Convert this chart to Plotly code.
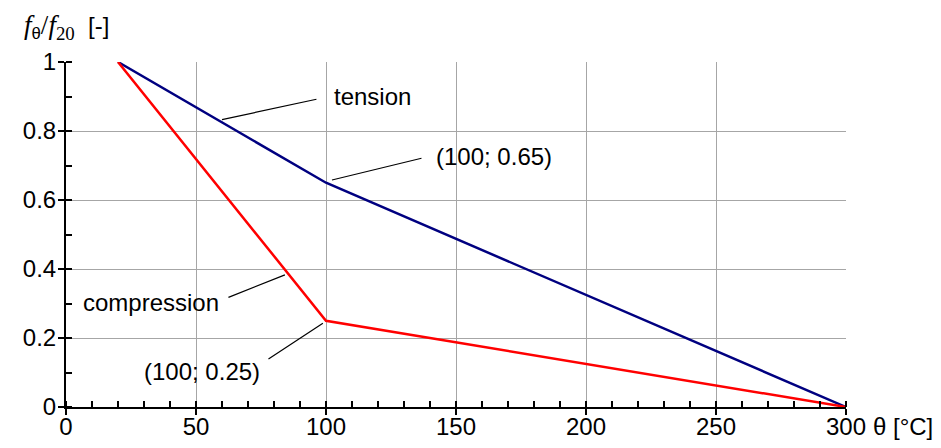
import plotly.graph_objects as go

# Data
temp = [20, 100, 300]
tension = [1.0, 0.65, 0.0]
compression = [1.0, 0.25, 0.0]
x_ticks = [0, 50, 100, 150, 200, 250, 300]
y_ticks = [0, 0.2, 0.4, 0.6, 0.8, 1.0]

FONT = "Liberation Sans, Arial, sans-serif"
FS = 24
GRID = "#a6a6a6"

fig = go.Figure()
fig.add_trace(go.Scatter(x=temp, y=tension, mode="lines",
                         line=dict(color="#000080", width=2.5), showlegend=False))
fig.add_trace(go.Scatter(x=temp, y=compression, mode="lines",
                         line=dict(color="#ff0000", width=2.5), showlegend=False))
# dummy trace for overlay axes (inside major ticks)
fig.add_trace(go.Scatter(x=[None], y=[None], xaxis="x2", yaxis="y2", showlegend=False))

fig.update_layout(
    width=941, height=448,
    margin=dict(l=66, r=95, t=62, b=41),
    paper_bgcolor="white", plot_bgcolor="white",
    font=dict(family=FONT, size=FS, color="black"),
    xaxis=dict(range=[0, 300], tickvals=x_ticks, ticks="outside", ticklen=6, tickwidth=2,
               tickcolor="black", showline=True, linecolor="black", linewidth=2,
               minor=dict(ticks="inside", dtick=10, ticklen=6, tickwidth=2, tickcolor="black", showgrid=False),
               zeroline=False, showgrid=True, gridcolor=GRID, gridwidth=1, automargin=False,
               ticklabelstandoff=-9,
               tickfont=dict(family=FONT, size=FS, color="black")),
    yaxis=dict(range=[0, 1], tickvals=y_ticks, ticks="outside", ticklen=6, tickwidth=2,
               tickcolor="black", showline=True, linecolor="black", linewidth=2,
               minor=dict(ticks="inside", dtick=0.1, ticklen=6, tickwidth=2, tickcolor="black", showgrid=False),
               zeroline=False, showgrid=True, gridcolor=GRID, gridwidth=1, automargin=False,
               ticklabelstandoff=-3,
               tickfont=dict(family=FONT, size=FS, color="black")),
    xaxis2=dict(range=[0, 300], tickvals=x_ticks, ticks="inside", ticklen=6, tickwidth=2,
                tickcolor="black", showticklabels=False, showgrid=False, zeroline=False,
                overlaying="x", anchor="y", automargin=False),
    yaxis2=dict(range=[0, 1], tickvals=y_ticks, ticks="inside", ticklen=6, tickwidth=2,
                tickcolor="black", showticklabels=False, showgrid=False, zeroline=False,
                overlaying="y", anchor="x", automargin=False),
)

line_kw = dict(showarrow=True, arrowhead=0, arrowwidth=1.2, arrowcolor="black",
               axref="x", ayref="y", xref="x", yref="y", text="")
# leader lines: (head x, head y, tail x, tail y)
leaders = [
    (60.0, 0.833, 96.9, 0.893),
    (102.3, 0.658, 137.3, 0.722),
    (84.2, 0.383, 61.9, 0.316),
    (98.8, 0.243, 77.3, 0.136),
]
for hx, hy, tx, ty in leaders:
    fig.add_annotation(x=hx, y=hy, ax=tx, ay=ty, **line_kw)

labels = [
    ("tension", 102.3, 0.899, "left"),
    ("(100; 0.65)", 141.5, 0.7275, "left"),
    ("compression", 59.6, 0.304, "right"),
    ("(100; 0.25)", 75.4, 0.104, "right"),
]
for txt, x, y, xa in labels:
    fig.add_annotation(x=x, y=y, text=txt, showarrow=False, xanchor=xa, yanchor="middle",
                       font=dict(family=FONT, size=FS, color="black"))

# axis titles
fig.add_annotation(xref="paper", yref="paper", x=-0.057, y=1.0, yshift=35,
                   xanchor="left", yanchor="middle", showarrow=False,
                   text=("<span style='font-family:Liberation Serif;font-size:27px'><i>f</i></span>"
                         "<sub>θ</sub>"
                         "<span style='font-family:Liberation Serif;font-size:27px'>/<i>f</i><sub>20</sub></span>"
                         "  [-]"),
                   font=dict(family=FONT, size=FS, color="black"))
fig.add_annotation(xref="paper", yref="paper", x=1.0, y=0, xshift=25, yshift=-19,
                   xanchor="left", yanchor="middle", showarrow=False,
                   text="θ [°C]", font=dict(family=FONT, size=FS, color="black"))

fig.write_html("out.html")
